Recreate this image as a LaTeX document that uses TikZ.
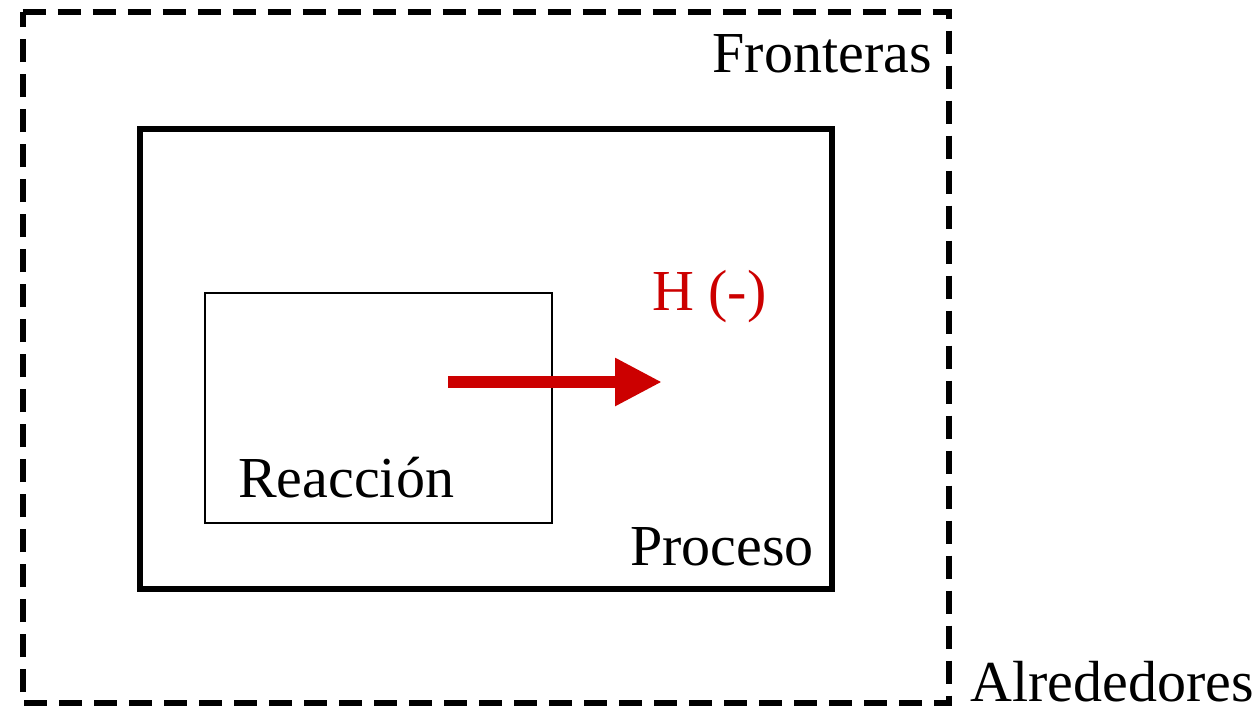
\documentclass[tikz,border=0pt]{standalone}
\usepackage{fontspec}
\setmainfont{Liberation Serif}
\usetikzlibrary{arrows.meta}
\definecolor{hred}{RGB}{204,0,0}
\tikzset{
  lbl/.style={inner sep=0pt, font=\fontsize{58}{62}\selectfont},
  frontier/.style={line width=6pt, dash pattern=on 23pt off 12pt},
  procbox/.style={line width=6pt},
  reacbox/.style={line width=2.5pt},
  heat/.style={hred, line width=12pt, -{Triangle[length=47pt, width=45pt]}}
}
\begin{document}
\begin{tikzpicture}[x=1pt, y=-1pt]
\useasboundingbox (0,0) rectangle (1258,712);
\fill[white] (0,0) rectangle (1258,712);
\draw[frontier] (22.5,12) -- (949,12) -- (949,703) -- (22.5,703) -- cycle;
\draw[procbox] (140,129) rectangle (832,589);
\draw[reacbox] (205,293) rectangle (552,523);
\coordinate (a) at (448,382);
\coordinate (b) at (662,382);
\draw[heat] (a) -- (b);
\node[lbl, anchor=base east] (fr) at (932,72) {Fronteras};
\node[lbl, anchor=base west] (al) at (970,701) {Alrededores};
\node[lbl, anchor=base west] (re) at (238,497) {Reacción};
\node[lbl, anchor=base west] (pr) at (630,565) {Proceso};
\node[lbl, anchor=base west, text=hred] (h) at (652,310) {H (-)};
\end{tikzpicture}
\end{document}
